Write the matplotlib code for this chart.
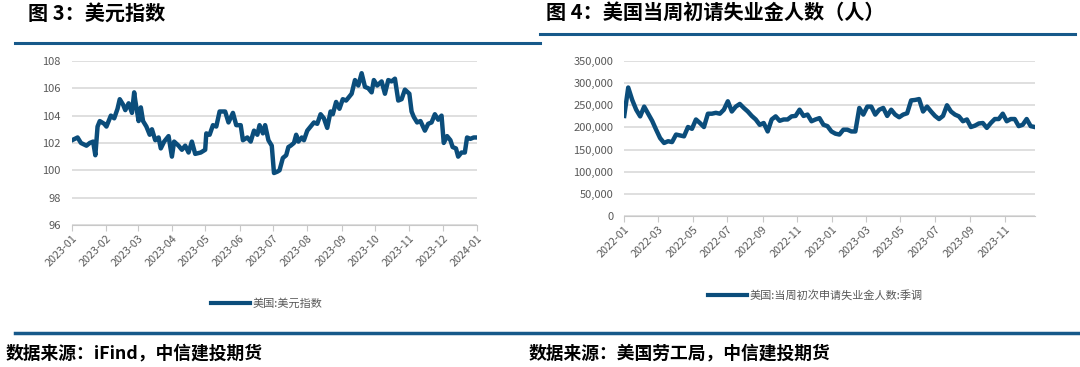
import matplotlib
matplotlib.use("Agg")
import matplotlib.pyplot as plt
import matplotlib.dates as mdates
from matplotlib.lines import Line2D
from matplotlib.ticker import FuncFormatter
import pandas as pd

plt.rcParams['font.family'] = ['Noto Sans CJK SC', 'DejaVu Sans']

# 美元指数 2023
dxy_dates = [
    "2023-01-01", "2023-01-06", "2023-01-09", "2023-01-14", "2023-01-17", "2023-01-20",
    "2023-01-22", "2023-01-24", "2023-01-26", "2023-01-30", "2023-02-01", "2023-02-05",
    "2023-02-08", "2023-02-11", "2023-02-13", "2023-02-16", "2023-02-18", "2023-02-21",
    "2023-02-24", "2023-02-26", "2023-02-27", "2023-03-02", "2023-03-04", "2023-03-06",
    "2023-03-09", "2023-03-12", "2023-03-14", "2023-03-17", "2023-03-20", "2023-03-22",
    "2023-03-25", "2023-03-29", "2023-04-01", "2023-04-03", "2023-04-07", "2023-04-10",
    "2023-04-13", "2023-04-16", "2023-04-19", "2023-04-22", "2023-04-27", "2023-05-01",
    "2023-05-02", "2023-05-05", "2023-05-08", "2023-05-11", "2023-05-14", "2023-05-19",
    "2023-05-22", "2023-05-26", "2023-05-29", "2023-06-02", "2023-06-04", "2023-06-08",
    "2023-06-11", "2023-06-14", "2023-06-17", "2023-06-19", "2023-06-22", "2023-06-24",
    "2023-06-27", "2023-06-30", "2023-07-02", "2023-07-05", "2023-07-07", "2023-07-10",
    "2023-07-13", "2023-07-15", "2023-07-17", "2023-07-20", "2023-07-22", "2023-07-24",
    "2023-07-27", "2023-07-29", "2023-08-01", "2023-08-04", "2023-08-07", "2023-08-10",
    "2023-08-13", "2023-08-16", "2023-08-19", "2023-08-22", "2023-08-24", "2023-08-27",
    "2023-08-30", "2023-09-02", "2023-09-05", "2023-09-10", "2023-09-13", "2023-09-16",
    "2023-09-19", "2023-09-22", "2023-09-25", "2023-09-28", "2023-09-30", "2023-10-03",
    "2023-10-07", "2023-10-10", "2023-10-13", "2023-10-16", "2023-10-19", "2023-10-22",
    "2023-10-25", "2023-10-28", "2023-11-01", "2023-11-03", "2023-11-05", "2023-11-08",
    "2023-11-11", "2023-11-15", "2023-11-18", "2023-11-21", "2023-11-24", "2023-11-27",
    "2023-11-30", "2023-12-02", "2023-12-05", "2023-12-08", "2023-12-10", "2023-12-13",
    "2023-12-15", "2023-12-18", "2023-12-21", "2023-12-23", "2023-12-26", "2023-12-29",
    "2024-01-02",
]
dxy_values = [
    102.2, 102.4, 102.0, 101.8, 102.0, 102.1,
    101.1, 103.2, 103.6, 103.4, 103.2, 104.0,
    103.8, 104.5, 105.2, 104.8, 104.4, 104.9,
    104.2, 105.7, 105.1, 103.6, 104.6, 103.6,
    103.2, 102.6, 103.0, 102.2, 102.4, 101.6,
    102.1, 102.5, 101.0, 102.1, 101.8, 101.5,
    101.8, 101.3, 102.1, 101.2, 101.3, 101.5,
    102.7, 102.6, 103.3, 103.2, 104.3, 104.3,
    103.5, 104.2, 103.3, 103.3, 102.2, 102.4,
    102.1, 102.9, 102.6, 103.3, 102.7, 103.3,
    102.2, 101.8, 99.8, 99.9, 100.0, 100.9,
    101.1, 101.7, 101.8, 102.0, 102.6, 102.1,
    102.4, 102.2, 102.9, 103.2, 103.5, 103.4,
    104.1, 103.8, 103.1, 104.3, 104.1, 105.0,
    104.5, 105.2, 105.1, 105.6, 106.6, 106.2,
    107.1, 106.1, 106.0, 105.7, 106.6, 106.2,
    106.5, 105.6, 106.6, 106.5, 106.7, 105.1,
    105.2, 105.9, 105.6, 104.3, 103.9, 103.5,
    103.6, 102.9, 103.4, 103.5, 104.1, 103.7,
    104.0, 102.0, 102.5, 102.2, 101.7, 101.6,
    101.0, 101.3, 101.3, 102.4, 102.3, 102.4,
    102.4,
]

# 初请失业金人数 (weekly, from 2022-01-01)
claims_start = "2022-01-01"
claims_values = [
    226000, 290000, 262000, 240000, 225000, 247000, 231000, 215000, 195000, 176000,
    165000, 169000, 167000, 184000, 182000, 180000, 201000, 197000, 218000, 210000,
    201000, 231000, 231000, 233000, 231000, 240000, 259000, 236000, 247000, 253000,
    244000, 236000, 226000, 218000, 206000, 210000, 191000, 218000, 225000, 215000,
    218000, 218000, 225000, 226000, 240000, 226000, 229000, 214000, 218000, 221000,
    206000, 203000, 191000, 186000, 184000, 195000, 195000, 191000, 191000, 244000,
    229000, 247000, 247000, 229000, 240000, 244000, 226000, 240000, 229000, 223000,
    229000, 232000, 261000, 262000, 264000, 236000, 247000, 236000, 226000, 219000,
    226000, 250000, 236000, 229000, 225000, 214000, 218000, 201000, 204000, 209000,
    210000, 199000, 210000, 219000, 219000, 231000, 214000, 219000, 219000, 203000,
    206000, 219000, 203000, 201000,
]

dxy_ticks = ["2023-%02d-01" % m for m in range(1, 13)] + ["2024-01-01"]
claims_ticks = ["2022-01-01", "2022-03-01", "2022-05-01", "2022-07-01", "2022-09-01",
                "2022-11-01", "2023-01-01", "2023-03-01", "2023-05-01", "2023-07-01",
                "2023-09-01", "2023-11-01"]

line_color = "#0b4d7b"
deco_color = "#17598a"
grey = "#595959"

fig = plt.figure(figsize=(10.8, 3.67), dpi=100)


def style_axes(ax):
    for s in ["top", "right", "left"]:
        ax.spines[s].set_visible(False)
    ax.spines["bottom"].set_color("#c8c8c8")
    ax.grid(axis="y", color="#d9d9d9", linewidth=1.2)
    ax.set_axisbelow(True)
    ax.tick_params(axis="y", length=0, labelsize=8, labelcolor=grey, pad=8)
    ax.tick_params(axis="x", length=4, color="#c8c8c8", labelsize=7.8,
                   labelcolor=grey, pad=2)
    ax.xaxis.set_major_formatter(mdates.DateFormatter("%Y-%m"))
    for lab in ax.get_xticklabels():
        lab.set_rotation(45)
        lab.set_ha("right")
        lab.set_rotation_mode("anchor")


# left: 美元指数
ax1 = fig.add_axes([0.0667, 0.387, 0.375, 0.447])
x1 = pd.to_datetime(dxy_dates)
ax1.plot(x1, dxy_values, color=line_color, linewidth=3.2, solid_joinstyle="round")
ax1.set_ylim(96, 108)
ax1.set_yticks(range(96, 109, 2))
ax1.set_xlim(pd.Timestamp("2023-01-01"), pd.Timestamp("2024-01-01"))
ax1.set_xticks(pd.to_datetime(dxy_ticks))
style_axes(ax1)
ax1.legend(handles=[Line2D([], [], color=line_color, linewidth=3)],
           labels=["美国:美元指数"], loc="center", bbox_to_anchor=(0.247, 0.174),
           bbox_transform=fig.transFigure, frameon=False, fontsize=8,
           labelcolor=grey, handlelength=3.5, handletextpad=0.2)

# right: 初请失业金
ax2 = fig.add_axes([0.578, 0.411, 0.380, 0.423])
x2 = pd.date_range(claims_start, periods=len(claims_values), freq="7D")
ax2.plot(x2, claims_values, color=line_color, linewidth=3.2, solid_joinstyle="round")
ax2.set_ylim(0, 350000)
ax2.set_yticks(range(0, 350001, 50000))
ax2.yaxis.set_major_formatter(FuncFormatter(lambda v, p: "{:,.0f}".format(v)))
ax2.set_xlim(pd.Timestamp("2022-01-01"), x2[-1])
ax2.set_xticks(pd.to_datetime(claims_ticks))
style_axes(ax2)
ax2.legend(handles=[Line2D([], [], color=line_color, linewidth=3)],
           labels=["美国:当周初次申请失业金人数:季调"], loc="center",
           bbox_to_anchor=(0.755, 0.196), bbox_transform=fig.transFigure,
           frameon=False, fontsize=8, labelcolor=grey, handlelength=3.5,
           handletextpad=0.2)

# titles and decorations
fig.text(0.026, 0.965, "图 3：美元指数", fontsize=14.5, fontweight="bold", va="center")
fig.text(0.506, 0.965, "图 4：美国当周初请失业金人数（人）", fontsize=14.5,
         fontweight="bold", va="center")
fig.add_artist(Line2D([0.014, 0.50], [0.883, 0.883], color=deco_color, linewidth=2.2))
fig.add_artist(Line2D([0.50, 0.995], [0.907, 0.907], color=deco_color, linewidth=2.2))
fig.add_artist(Line2D([0.014, 1.0], [0.093, 0.093], color=deco_color, linewidth=2.5))

fig.text(0.005, 0.038, "数据来源：iFind，中信建投期货", fontsize=12.8,
         fontweight="bold", style="italic", va="center")
fig.text(0.489, 0.038, "数据来源：美国劳工局，中信建投期货", fontsize=12.8,
         fontweight="bold", style="italic", va="center")

fig.savefig("out.png", dpi=100)
